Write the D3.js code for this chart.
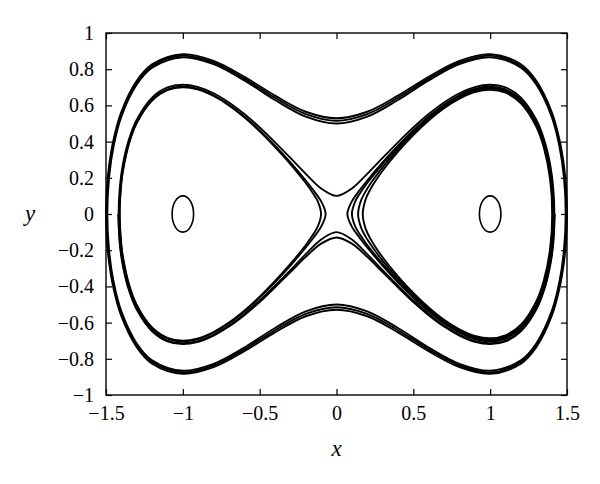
<!DOCTYPE html>
<html>
<head>
<meta charset="utf-8">
<script src="https://cdnjs.cloudflare.com/ajax/libs/d3/7.8.5/d3.min.js"></script>
<style>
    body { margin: 0; background: #fff; }
    svg { display: block; }
    .tick text { font-family: "Liberation Serif", serif; font-size: 20px; fill: #000; }
    .tick line { stroke: #000; stroke-width: 1.2; }
</style>
</head>
<body>
<svg id="chart" width="600" height="484"></svg>
<script>
// ==================
// DATA
// ==================
var xTicks = [-1.5, -1, -0.5, 0, 0.5, 1, 1.5];
var yTicks = [-1, -0.8, -0.6, -0.4, -0.2, 0, 0.2, 0.4, 0.6, 0.8, 1];

// outer band: quarter arcs (x >= 0, y >= 0), mirrored into the other quadrants
var outer1 = [[0, .529], [.2, .565], [.4, .654], [.6, .758], [.8, .846], [1.0, .883], [1.2, .827],
    [1.3, .736], [1.4, .565], [1.45, .415], [1.48, .267], [1.495, .132], [1.4997, 0]];
var outer2 = [[0, .515], [.2, .552], [.4, .642], [.6, .748], [.8, .837], [1.0, .875], [1.2, .817],
    [1.3, .725], [1.4, .552], [1.45, .396], [1.48, .237], [1.49, .140], [1.4957, 0]];
var outer3 = [[0, .500], [.2, .538], [.4, .630], [.6, .738], [.8, .828], [1.0, .866], [1.2, .808],
    [1.3, .715], [1.4, .538], [1.45, .377], [1.48, .202], [1.4915, 0]];

// orbits just outside the X, going round both lobes
var cross1 = [[0, .100], [.1, .141], [.2, .222], [.3, .310], [.4, .396], [.5, .478], [.6, .552],
    [.7, .616], [.8, .667], [.9, .701], [1.0, .714], [1.1, .699], [1.2, .643], [1.3, .521],
    [1.35, .414], [1.39, .275], [1.41, .148], [1.4177, 0]];
// this one is only seen under the X
var cross2 = [[0, .130], [.1, .164], [.2, .237], [.3, .321], [.4, .405], [.5, .486], [.6, .559],
    [.7, .622], [.8, .672], [.9, .706], [1.0, .719], [1.1, .704], [1.2, .648], [1.3, .528],
    [1.35, .423], [1.39, .287], [1.41, .170], [1.4202, 0]];

// lobe orbits: upper half arcs of the right lobe (inner turn -> outer turn)
var lobeA = [[.0707, 0], [.1, .070], [.15, .131], [.2, .185], [.3, .285], [.4, .377], [.5, .462],
    [.6, .539], [.7, .604], [.8, .656], [.9, .691], [1.0, .704], [1.1, .688], [1.2, .631],
    [1.3, .507], [1.35, .396], [1.39, .246], [1.4, .185], [1.4124, 0]];
var lobeB = [[.1003, 0], [.12, .066], [.15, .111], [.2, .171], [.3, .276], [.4, .370], [.5, .457],
    [.6, .534], [.7, .600], [.8, .652], [.9, .687], [1.0, .700], [1.1, .684], [1.2, .627],
    [1.3, .502], [1.35, .390], [1.39, .236], [1.4, .171], [1.4107, 0]];
var lobeC = [[.1407, 0], [.16, .075], [.2, .140], [.25, .202], [.3, .258], [.4, .357], [.5, .446],
    [.6, .525], [.7, .592], [.8, .645], [.9, .680], [1.0, .693], [1.1, .677], [1.2, .619],
    [1.3, .492], [1.35, .377], [1.39, .214], [1.4072, 0]];
var lobeD = [[.1709, 0], [.19, .082], [.22, .136], [.25, .178], [.3, .239], [.4, .344], [.5, .436],
    [.6, .516], [.7, .584], [.8, .637], [.9, .673], [1.0, .686], [1.1, .670], [1.2, .612],
    [1.3, .483], [1.35, .365], [1.39, .192], [1.4038, 0]];

// small closed orbits round the two centres
var centresX = [-1, 1];
var centreRx = 0.07;
var centreRy = 0.10;

// ==================
// LAYOUT
// ==================
var svg = d3.select("#chart");
var margin = {top: 33, right: 33, bottom: 89, left: 106};
var width = 600 - margin.left - margin.right;
var height = 484 - margin.top - margin.bottom;

var x = d3.scaleLinear().domain([-1.5, 1.5]).range([0, width]);
var y = d3.scaleLinear().domain([-1, 1]).range([height, 0]);

var g = svg.append("g").attr("transform", "translate(" + margin.left + "," + margin.top + ")");

var fmt = d3.format("~g");

// ####################################
// # helpers turning arcs into loops
// ####################################
function flipY(pts) {
    return pts.map(function (p) { return [p[0], -p[1]]; });
}
function flipX(pts) {
    return pts.map(function (p) { return [-p[0], p[1]]; });
}
// quarter arc from x = 0 -> whole upper half, left to right
function upperFromQuarter(q) {
    return flipX(q).reverse().slice(0, -1).concat(q);
}
// closed loop from an upper half (ends on y = 0)
function loopFromUpper(u) {
    return u.concat(flipY(u).reverse().slice(1, -1));
}

var loops = [];
[outer1, outer2, outer3, cross1].forEach(function (q) {
    loops.push(loopFromUpper(upperFromQuarter(q)));
});
[lobeA, lobeB, lobeC, lobeD].forEach(function (r) {
    loops.push(loopFromUpper(r));
});
// left lobe
loops.push(loopFromUpper(flipX(lobeB).reverse()));
loops.push(loopFromUpper(flipX(lobeA).reverse()));

var closedLine = d3.line()
    .x(function (d) { return x(d[0]); })
    .y(function (d) { return y(d[1]); })
    .curve(d3.curveCatmullRomClosed.alpha(0.5));

var openLine = d3.line()
    .x(function (d) { return x(d[0]); })
    .y(function (d) { return y(d[1]); })
    .curve(d3.curveCatmullRom.alpha(0.5));

// ==================
// CURVES
// ==================
var curves = g.append("g")
    .attr("fill", "none")
    .attr("stroke", "#000")
    .attr("stroke-width", 1.9);

curves.selectAll("path.loop")
    .data(loops)
    .enter().append("path")
    .attr("class", "loop")
    .attr("d", closedLine);

// lower half only of cross2
curves.append("path")
    .attr("d", openLine(flipY(upperFromQuarter(cross2))));

curves.selectAll("ellipse")
    .data(centresX)
    .enter().append("ellipse")
    .attr("stroke-width", 1.6)
    .attr("cx", function (d) { return x(d); })
    .attr("cy", y(0))
    .attr("rx", x(centreRx) - x(0))
    .attr("ry", y(0) - y(centreRy));

// ==================
// AXES
// ==================
g.append("g")
    .attr("transform", "translate(0," + height + ")")
    .call(d3.axisBottom(x).tickValues(xTicks).tickFormat(fmt).tickSizeInner(-6).tickSizeOuter(0).tickPadding(11))
    .call(function (a) { a.select(".domain").remove(); });

g.append("g")
    .call(d3.axisTop(x).tickValues(xTicks).tickFormat("").tickSizeInner(-6).tickSizeOuter(0))
    .call(function (a) { a.select(".domain").remove(); });

g.append("g")
    .call(d3.axisLeft(y).tickValues(yTicks).tickFormat(fmt).tickSizeInner(-6).tickSizeOuter(0).tickPadding(12))
    .call(function (a) { a.select(".domain").remove(); });

g.append("g")
    .attr("transform", "translate(" + width + ",0)")
    .call(d3.axisRight(y).tickValues(yTicks).tickFormat("").tickSizeInner(-6).tickSizeOuter(0))
    .call(function (a) { a.select(".domain").remove(); });

g.append("rect")
    .attr("width", width)
    .attr("height", height)
    .attr("fill", "none")
    .attr("stroke", "#000")
    .attr("stroke-width", 1.4);

// axis titles
svg.append("text")
    .attr("x", margin.left + x(0))
    .attr("y", 456)
    .attr("text-anchor", "middle")
    .attr("font-family", "Liberation Serif, serif")
    .attr("font-style", "italic")
    .attr("font-size", 23)
    .text("x");

svg.append("text")
    .attr("x", 30)
    .attr("y", 221)
    .attr("text-anchor", "middle")
    .attr("font-family", "Liberation Serif, serif")
    .attr("font-style", "italic")
    .attr("font-size", 23)
    .text("y");
</script>
</body>
</html>
